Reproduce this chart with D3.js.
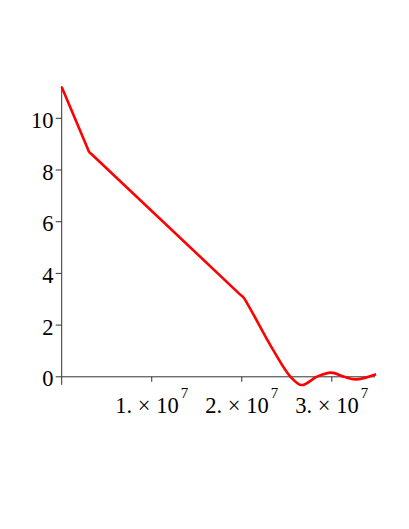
<!DOCTYPE html>
<html><head><meta charset="utf-8">
<script src="https://cdn.jsdelivr.net/npm/d3@7"></script>
<style>body{margin:0;background:#fff}svg{display:block}</style>
</head><body>
<script>
// data (x in units of 1e6, y values)
const xVals = [0, 2.8, 3.03, 3.3, 19.8, 20.26, 20.6, 23.48, 25.42, 26.67, 28.33, 29.92, 31.37, 32.59, 34.92];
const yVals = [11.21, 8.9, 8.71, 8.62, 3.19, 3.04, 2.84, 1.04, 0, -0.32, 0, 0.16, 0, -0.10, 0.10];
const yTicks = [0, 2, 4, 6, 8, 10];
const xTicks = [0, 10, 20, 30];
const xTickLabels = ["", "1.", "2.", "3."];

const W = 409, H = 529;
const svg = d3.select("body").append("svg").attr("width", W).attr("height", H);
const x = d3.scaleLinear().domain([0, 34.8]).range([61.7, 375]);
const y = d3.scaleLinear().domain([0, 11.25]).range([376.8, 86]);
const font = "'Liberation Serif', 'Times New Roman', serif";

// x axis
svg.append("line").attr("x1", x(0)).attr("x2", x(34.8)).attr("y1", y(0)).attr("y2", y(0))
  .attr("stroke", "#333").attr("stroke-width", 1);
xTicks.forEach((t, i) => {
  svg.append("line").attr("x1", x(t)).attr("x2", x(t)).attr("y1", y(0)).attr("y2", y(0) + (i === 0 ? 8 : 5))
    .attr("stroke", "#333").attr("stroke-width", 1);
  if (xTickLabels[i]) {
    const g = svg.append("text").attr("font-family", font).attr("font-size", 22.5).attr("fill", "#000")
      .attr("y", 413).attr("x", x(t)).attr("text-anchor", "middle");
    g.append("tspan").text(xTickLabels[i] + " \u00d7 10");
    g.append("tspan").attr("font-size", 15).attr("dx", 2).attr("dy", -15).text("7");
  }
});
// y axis
svg.append("line").attr("x1", x(0)).attr("x2", x(0)).attr("y1", y(11.25)).attr("y2", y(0))
  .attr("stroke", "#333").attr("stroke-width", 1);
yTicks.forEach(t => {
  svg.append("line").attr("x1", x(0) - 6).attr("x2", x(0)).attr("y1", y(t)).attr("y2", y(t))
    .attr("stroke", "#333").attr("stroke-width", 1);
  svg.append("text").attr("font-family", font).attr("font-size", 22.5).attr("fill", "#000")
    .attr("x", 53.5).attr("y", y(t) + 9.5).attr("text-anchor", "end").text(t);
});

const line = d3.line().x((d, i) => x(xVals[i])).y((d, i) => y(yVals[i])).curve(d3.curveMonotoneX);
svg.append("path").attr("d", line(xVals)).attr("fill", "none").attr("stroke", "#ff0000")
  .attr("stroke-width", 2.6).attr("stroke-linejoin", "round");
</script>
</body></html>
